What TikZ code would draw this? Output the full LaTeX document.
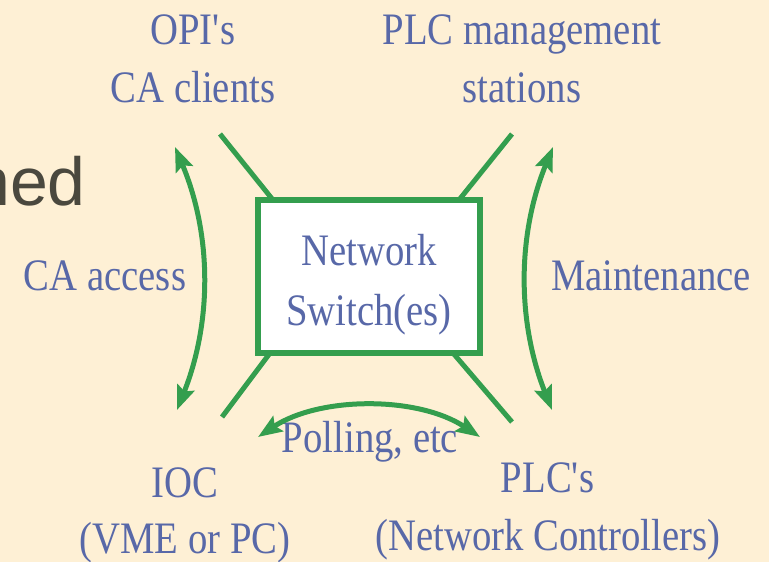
\documentclass[tikz,border=0pt]{standalone}
\usepackage{fontspec}
\setmainfont{Liberation Serif}[FakeStretch=0.86]
\newfontfamily\hedfont{Liberation Sans}
\usetikzlibrary{arrows.meta}
\definecolor{bgc}{RGB}{254,240,213}
\definecolor{grn}{RGB}{52,158,78}
\definecolor{txt}{RGB}{88,104,168}
\definecolor{gry}{RGB}{74,72,62}
\tikzset{
  lbl/.style={anchor=base, inner sep=0pt, text=txt, font=\fontsize{45}{54}\selectfont},
  link/.style={draw=grn, line width=5pt},
  flow/.style={draw=grn, line width=5pt, {Stealth[length=24pt,width=18pt,inset=4pt]}-{Stealth[length=24pt,width=18pt,inset=4pt]}},
  swbox/.style={draw=grn, line width=6pt, fill=white, minimum width=222pt, minimum height=153pt, inner sep=0pt}
}
\begin{document}
\begin{tikzpicture}[x=1pt,y=-1pt]
\fill[bgc] (0,0) rectangle (769,562);
\useasboundingbox (0,0) rectangle (769,562);
\begin{scope}
\clip (0,0) rectangle (769,562);
\node[anchor=base west, inner sep=0pt, text=gry, font=\hedfont\fontsize{68}{80}\selectfont] (hed) at (-28,205) {hed};
\end{scope}
% switch box
\node[swbox] (sw) at (369,276.5) {};
\node[lbl] (net) at (369,265) {Network};
\node[lbl] (swes) at (369,325) {Switch(es)};
% labels
\node[lbl] (opi) at (193,44) {OPI\textquotesingle s};
\node[lbl] (cac) at (193,102) {CA clients};
\node[lbl] (plcm) at (522,44) {PLC management};
\node[lbl] (stat) at (522,102) {stations};
\node[lbl] (caa) at (105,290) {CA access};
\node[lbl] (mnt) at (651,290) {Maintenance};
\node[lbl] (pol) at (370,452) {Polling, etc};
\node[lbl] (ioc) at (185,497) {IOC};
\node[lbl] (vme) at (185,553) {(VME or PC)};
\node[lbl] (plcs) at (548,492) {PLC\textquotesingle s};
\node[lbl] (ncon) at (548,550) {(Network Controllers)};
% connector end points
\coordinate (tlA) at (220,134); \coordinate (tlB) at (273,200);
\coordinate (trA) at (512,134); \coordinate (trB) at (459,200);
\coordinate (blA) at (222,417); \coordinate (blB) at (270,353);
\coordinate (brA) at (512,422); \coordinate (brB) at (453,353);
\draw[link] (tlA) -- (tlB);
\draw[link] (trA) -- (trB);
\draw[link] (blA) -- (blB);
\draw[link] (brA) -- (brB);
% curved arrows
\coordinate (la1) at (175,147); \coordinate (la2) at (177,410);
\coordinate (ra1) at (553,147); \coordinate (ra2) at (552,410);
\coordinate (ba1) at (258,437); \coordinate (ba2) at (480,437);
\draw[flow] (la1) .. controls (212,235) and (212,322) .. (la2);
\draw[flow] (ra1) .. controls (517,235) and (517,322) .. (ra2);
\draw[flow] (ba1) .. controls (320,396) and (418,396) .. (ba2);
\end{tikzpicture}
\end{document}
